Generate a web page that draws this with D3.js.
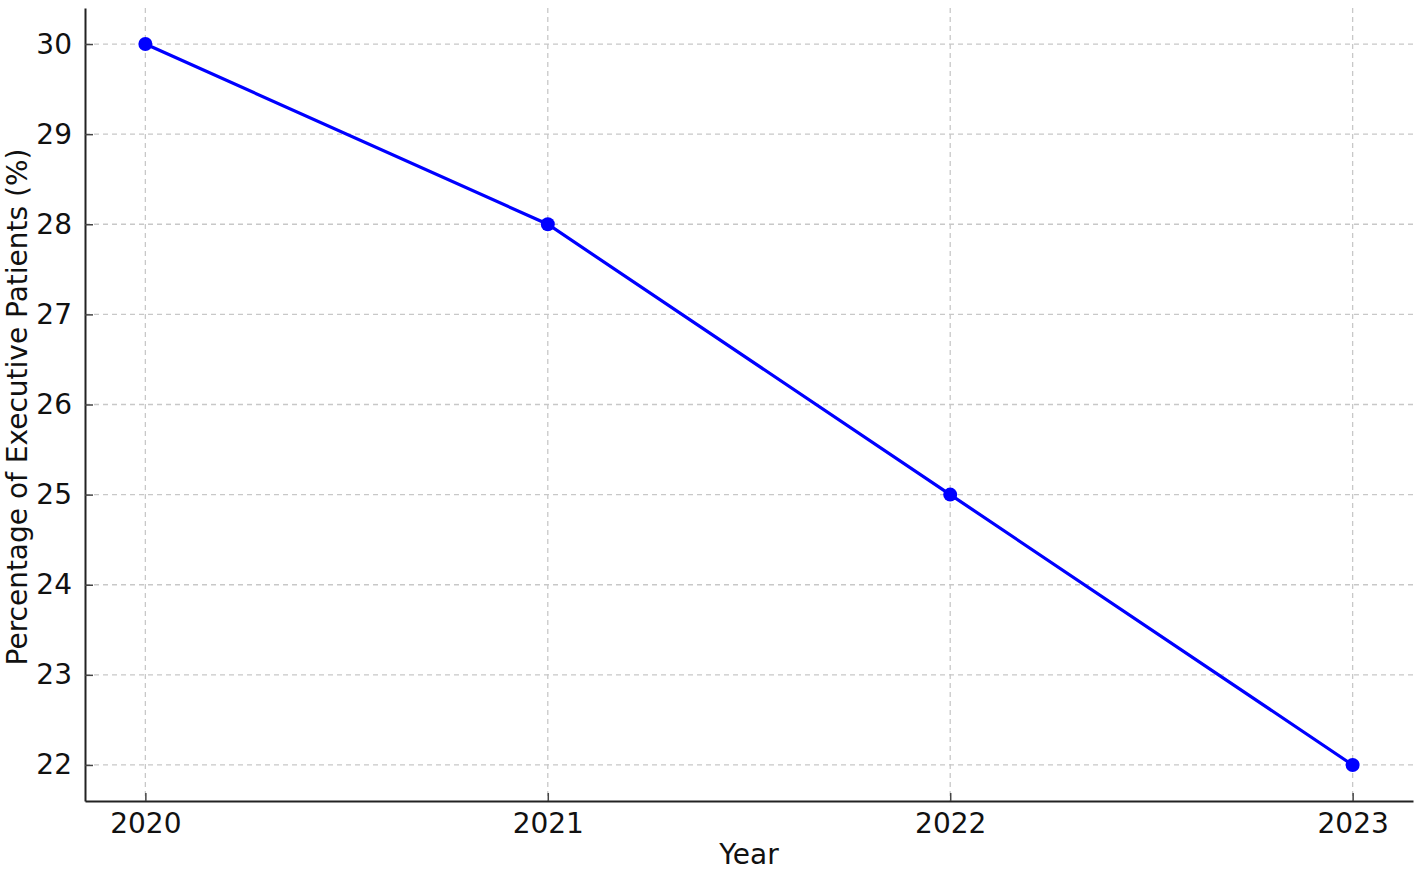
<!DOCTYPE html>
<html><head><meta charset="utf-8">
<script src="https://cdn.jsdelivr.net/npm/d3@7"></script>
<style>html,body{margin:0;padding:0;background:#fff;overflow:hidden}</style>
</head><body>
<script>
const years = [2020, 2021, 2022, 2023];
const values = [30, 28, 25, 22];
const yTicks = [22, 23, 24, 25, 26, 27, 28, 29, 30];
const xLabel = "Year";
const yLabel = "Percentage of Executive Patients (%)";

const W = 1417, H = 871;
const svg = d3.select("body").append("svg").attr("width", W).attr("height", H)
  .style("font-family", "'DejaVu Sans', sans-serif");

const pLeft = 85, pRight = 1413, pTop = 8, pBottom = 801;
const x = d3.scaleLinear().domain([2019.85, 2023.15]).range([pLeft, pRight]);
const y = d3.scaleLinear().domain([21.6, 30.4]).range([pBottom, pTop]);

// grid
const g = svg.append("g");
g.selectAll("line.hg").data(yTicks).join("line")
  .attr("x1", pLeft).attr("x2", pRight).attr("y1", d => y(d)).attr("y2", d => y(d))
  .attr("stroke", "#c8c8c8").attr("stroke-width", 1.3).attr("stroke-dasharray", "5,4");
g.selectAll("line.vg").data(years).join("line")
  .attr("y1", pTop).attr("y2", pBottom).attr("x1", d => x(d)).attr("x2", d => x(d))
  .attr("stroke", "#c8c8c8").attr("stroke-width", 1.3).attr("stroke-dasharray", "5,4");

// axes
const xAxis = d3.axisBottom(x).tickValues(years).tickFormat(d3.format("d")).tickSizeInner(-8).tickSizeOuter(0).tickPadding(12);
const yAxis = d3.axisLeft(y).tickValues(yTicks).tickFormat(d3.format("d")).tickSizeInner(-8).tickSizeOuter(0).tickPadding(13);
const gx = svg.append("g").attr("transform", `translate(0,${pBottom})`).call(xAxis);
const gy = svg.append("g").attr("transform", `translate(${pLeft},0)`).call(yAxis);
[gx, gy].forEach(a => {
  a.select(".domain").attr("stroke", "#222").attr("stroke-width", 2);
  a.selectAll(".tick line").attr("stroke", "#444").attr("stroke-width", 1.5);
  a.selectAll(".tick text").attr("fill", "#111").style("font-size", "28px").style("font-family", "'DejaVu Sans', sans-serif");
});

// line
const pts = years.map((d, i) => [d, values[i]]);
svg.append("path").datum(pts)
  .attr("fill", "none").attr("stroke", "#0000ff").attr("stroke-width", 3.2)
  .attr("d", d3.line().x(d => x(d[0])).y(d => y(d[1])));
svg.selectAll("circle.pt").data(pts).join("circle")
  .attr("cx", d => x(d[0])).attr("cy", d => y(d[1])).attr("r", 7).attr("fill", "#0000ff");

// labels
svg.append("text").attr("x", 749).attr("y", 864).attr("text-anchor", "middle")
  .style("font-size", "28px").attr("fill", "#111").text(xLabel);
svg.append("text").attr("transform", "translate(27,407) rotate(-90)").attr("text-anchor", "middle")
  .style("font-size", "28px").attr("fill", "#111").text(yLabel);
</script>
</body></html>
